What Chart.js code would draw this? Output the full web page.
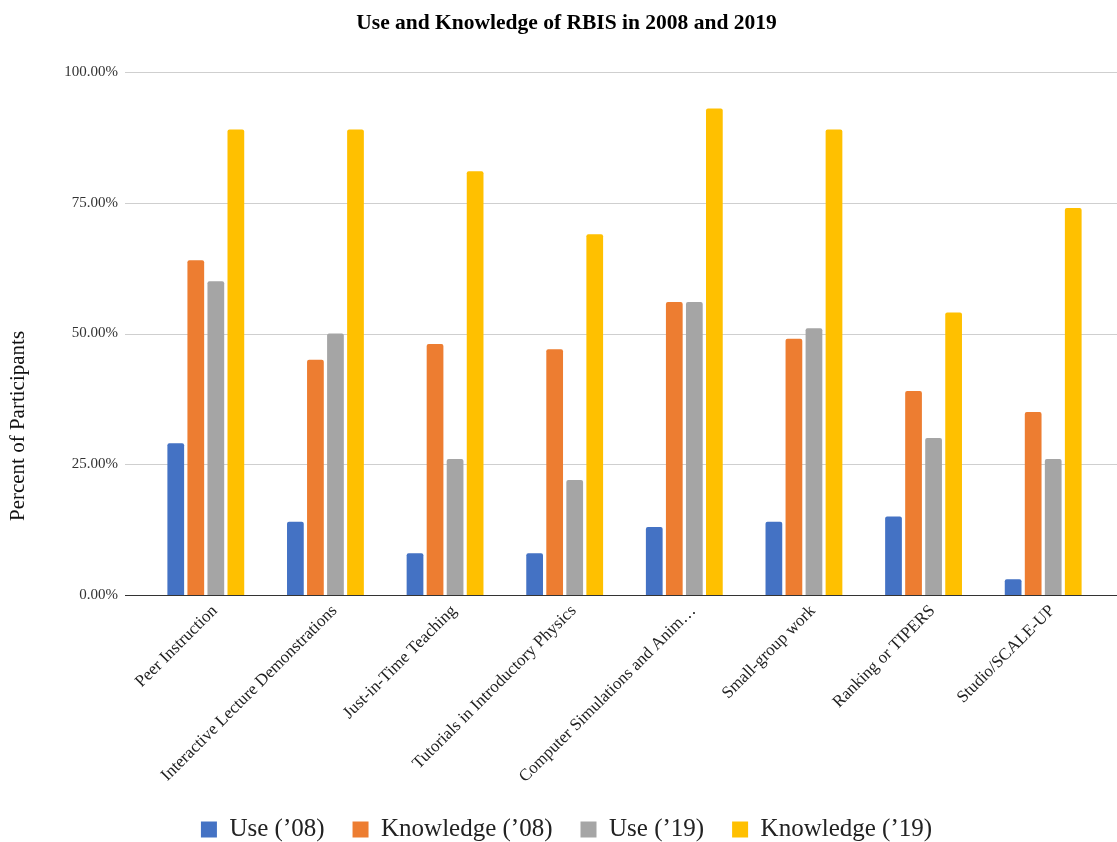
<!DOCTYPE html>
<html><head><meta charset="utf-8">
<script src="https://cdn.jsdelivr.net/npm/chart.js@4.4.1/dist/chart.umd.min.js"></script>
<style>html,body{margin:0;padding:0;background:#fff;overflow:hidden}#wrap{width:1117px;height:842px;position:relative}</style>
</head><body><div id="wrap"><canvas id="c"></canvas></div>
<script>
const categories = ["Peer Instruction","Interactive Lecture Demonstrations","Just-in-Time Teaching","Tutorials in Introductory Physics","Computer Simulations and Anim…","Small-group work","Ranking or TIPERS","Studio/SCALE-UP"];
const use08 = [29,14,8,8,13,14,15,3];
const knowledge08 = [64,45,48,47,56,49,39,35];
const use19 = [60,50,26,22,56,51,30,26];
const knowledge19 = [89,89,81,69,93,89,54,74];
const yTicks = [0,25,50,75,100];
const seriesNames = ["Use (’08)","Knowledge (’08)","Use (’19)","Knowledge (’19)"];
const chartTitle = "Use and Knowledge of RBIS in 2008 and 2019";
const yTitle = "Percent of Participants";

const SERIF = "'Liberation Serif', 'Times New Roman', serif";
const colors = ['#4472C4','#ED7D31','#A5A5A5','#FFC000'];

const gridPlugin = {
  id: 'extGrid',
  beforeDatasetsDraw(chart) {
    const {ctx, chartArea, scales: {y}} = chart;
    ctx.save();
    ctx.lineWidth = 1;
    y.ticks.forEach(t => {
      if (t.value === 0) return;
      const py = Math.round(y.getPixelForValue(t.value)) + 0.5;
      ctx.strokeStyle = '#cfcfcf';
      ctx.beginPath(); ctx.moveTo(chartArea.left - 21, py); ctx.lineTo(chart.width, py); ctx.stroke();
    });
    ctx.restore();
  },
  afterDatasetsDraw(chart) {
    const {ctx, chartArea, scales: {y}} = chart;
    ctx.save();
    const py = Math.round(y.getPixelForValue(0)) + 0.5;
    ctx.strokeStyle = '#333';
    ctx.lineWidth = 1;
    ctx.beginPath(); ctx.moveTo(chartArea.left - 21, py); ctx.lineTo(chart.width, py); ctx.stroke();
    ctx.restore();
  },
  afterDraw(chart) {
    const ctx = chart.ctx;
    ctx.save();
    ctx.translate(18, chart.height / 2 + 5);
    ctx.rotate(-Math.PI / 2);
    ctx.font = "21px " + SERIF;
    ctx.fillStyle = '#111';
    ctx.textAlign = 'center';
    ctx.textBaseline = 'middle';
    ctx.fillText(yTitle, 0, 0);
    ctx.restore();
  }
};

const seriesData = [use08, knowledge08, use19, knowledge19];

new Chart(document.getElementById('c'), {
  type: 'bar',
  data: {
    labels: categories,
    datasets: seriesData.map((d, i) => ({
      label: seriesNames[i],
      data: d,
      backgroundColor: colors[i],
      borderWidth: 0,
      borderRadius: 2,
      categoryPercentage: 0.67,
      barPercentage: 0.835
    }))
  },
  options: {
    responsive: true,
    maintainAspectRatio: false,
    devicePixelRatio: 1,
    animation: false,
    layout: {padding: {left: 30, right: 14, top: 0, bottom: -10}},
    plugins: {
      title: {display: true, text: chartTitle, color: '#000',
        font: {family: SERIF, size: 21.5, weight: 'bold'}, padding: {top: 11, bottom: 35.2}},
      legend: {position: 'bottom',
        labels: {boxWidth: 16, boxHeight: 16, padding: 28, color: '#222', font: {family: SERIF, size: 25}}},
      tooltip: {enabled: false}
    },
    scales: {
      x: {
        grid: {display: false, drawTicks: false},
        border: {display: false},
        ticks: {autoSkip: false, maxRotation: 45, minRotation: 45, padding: 6, labelOffset: 9, color: '#222',
          font: {family: SERIF, size: 17}},
        afterFit(s) { s.height = 194; }
      },
      y: {
        min: 0, max: 100,
        grid: {display: false, drawTicks: false},
        border: {display: false},
        ticks: {padding: 28, color: '#333', font: {family: SERIF, size: 15},
          callback: v => Number(v).toFixed(2) + '%'},
        afterBuildTicks(s) { s.ticks = yTicks.map(v => ({value: v})); },
        afterFit(s) { s.width = 116; }
      }
    }
  },
  plugins: [gridPlugin]
});
</script>
</body></html>
